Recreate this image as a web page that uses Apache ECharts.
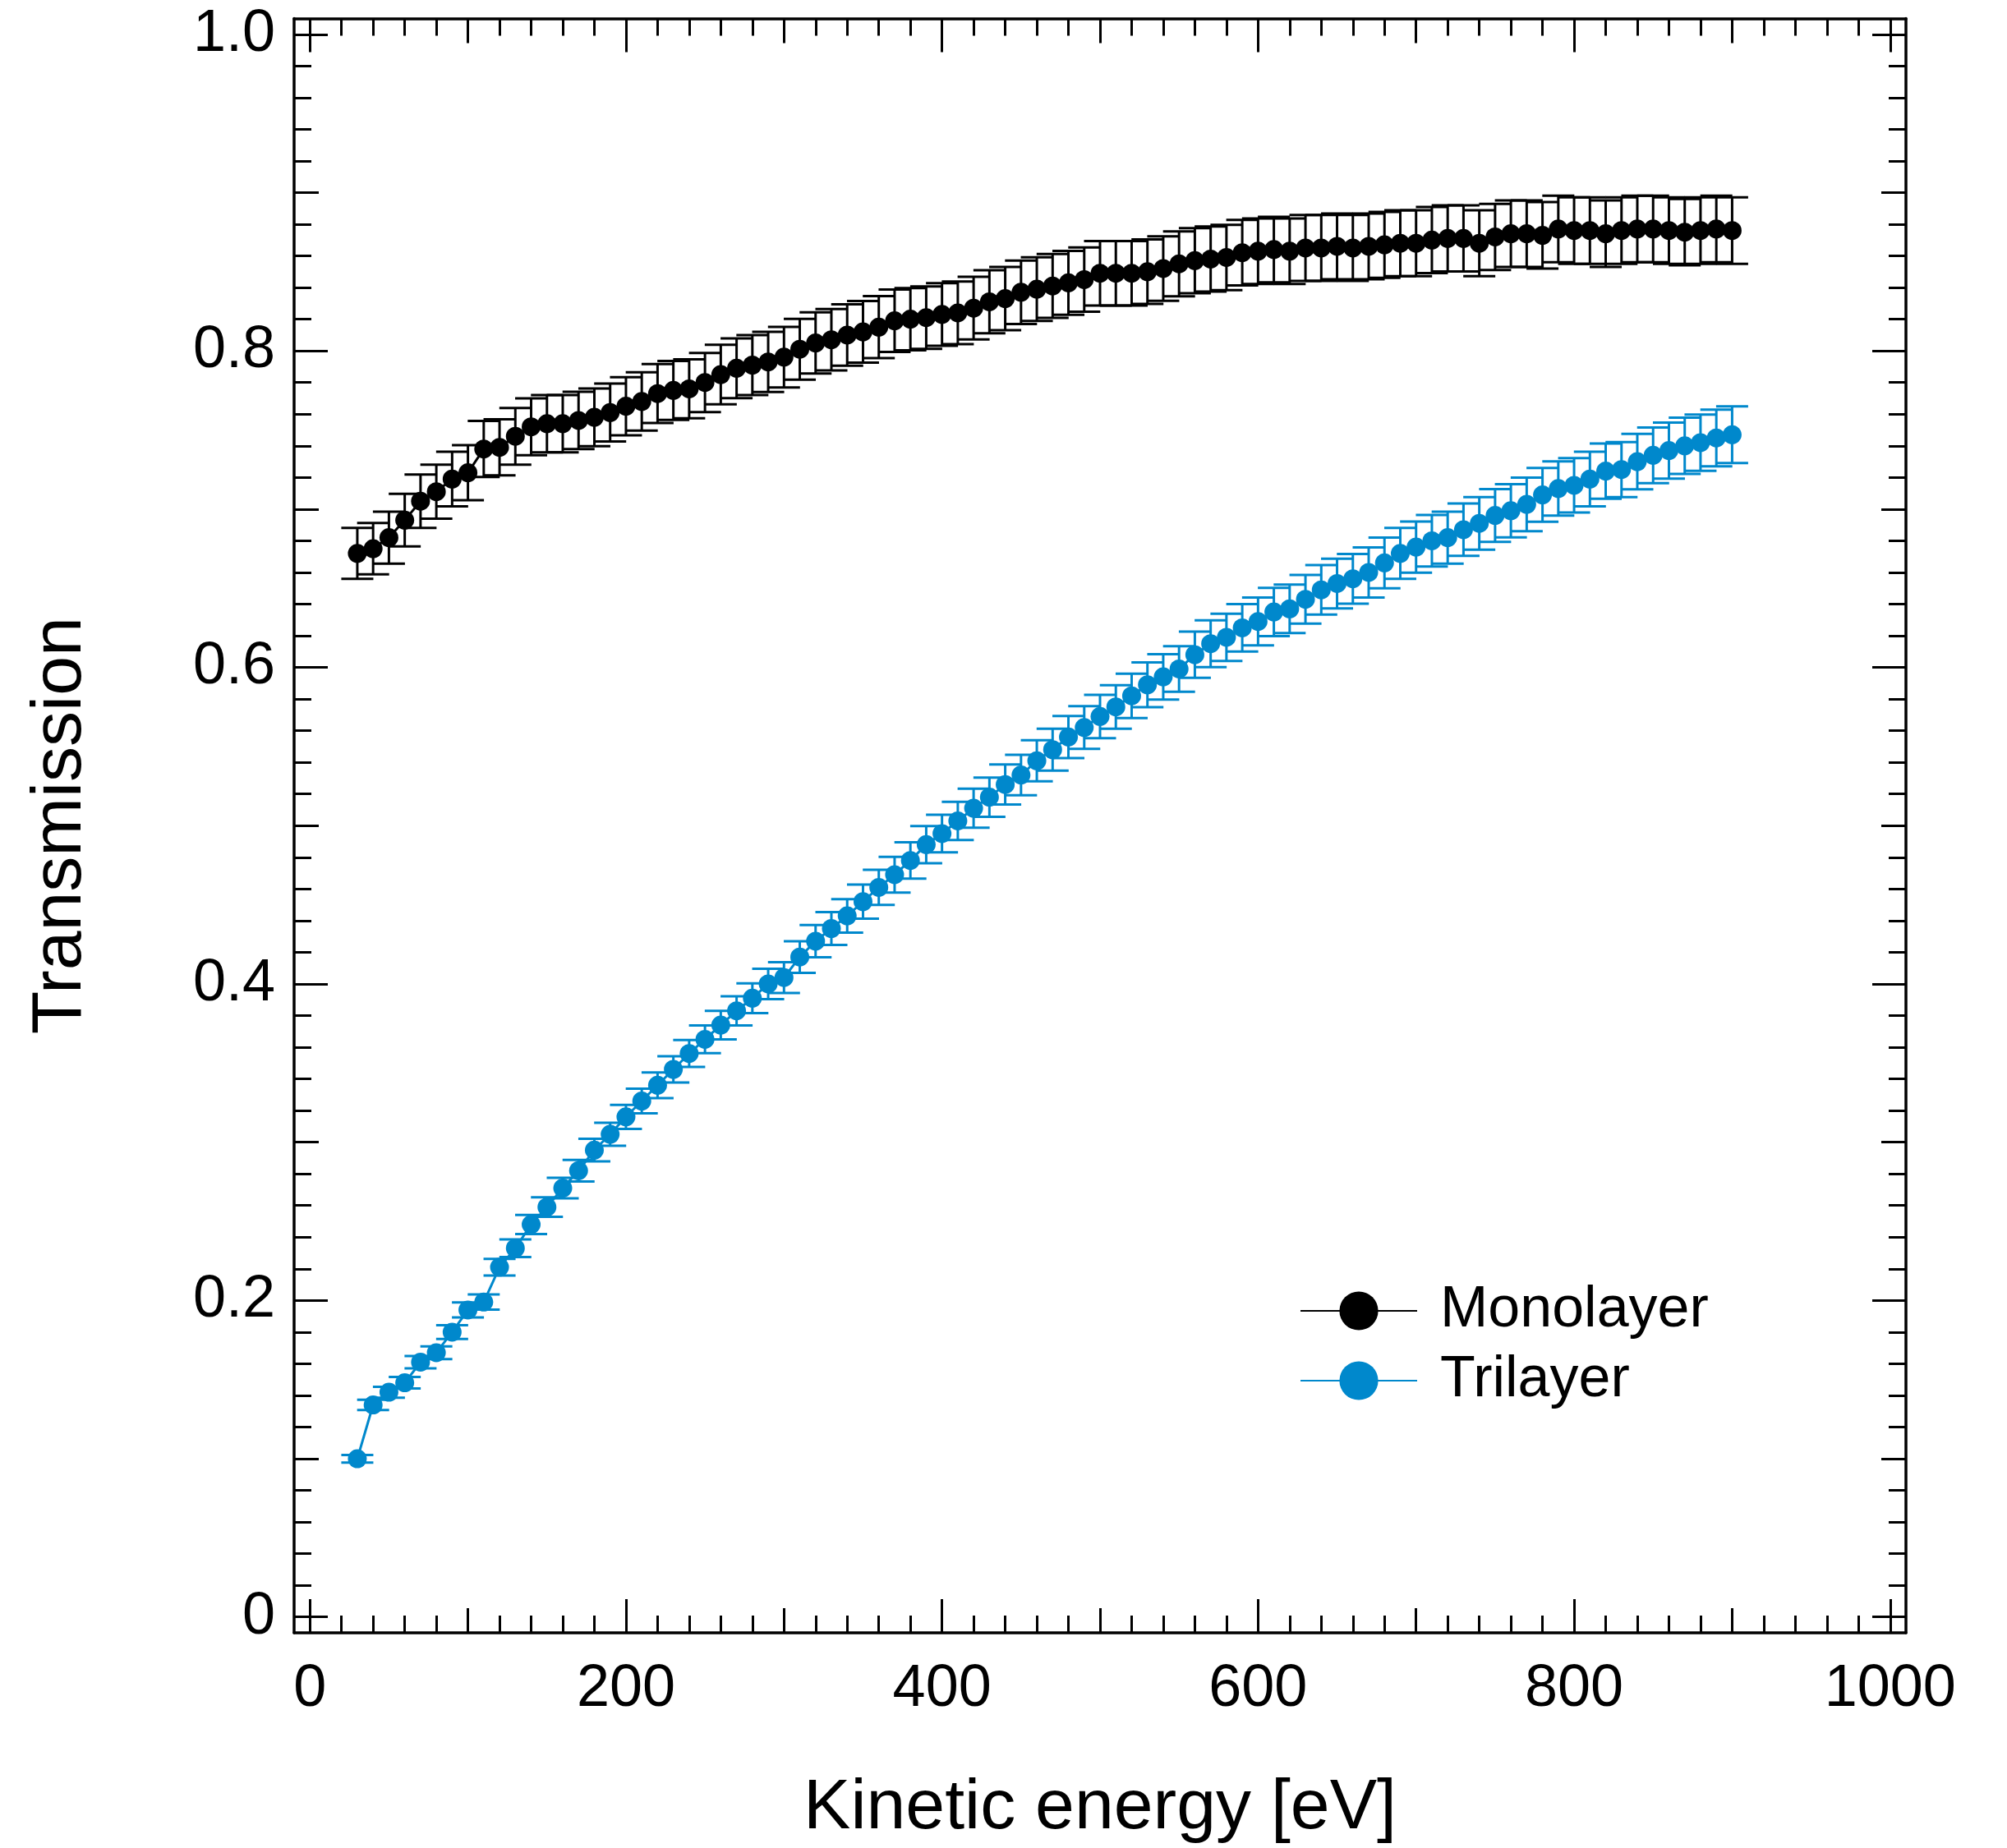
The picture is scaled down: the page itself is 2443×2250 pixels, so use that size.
<!DOCTYPE html>
<html>
<head>
<meta charset="utf-8">
<script src="https://cdn.jsdelivr.net/npm/echarts@6.0.0/dist/echarts.min.js"></script>
<style>
html,body{margin:0;padding:0;background:#fff;}
#chart{width:2443px;height:2250px;}
</style>
</head>
<body>
<div id="chart"></div>
<script>
// ---------- data ----------
const energy = [30,40,50,60,70,80,90,100,110,120,130,140,150,160,170,180,190,200,210,220,230,240,250,260,270,280,290,300,310,320,330,340,350,360,370,380,390,400,410,420,430,440,450,460,470,480,490,500,510,520,530,540,550,560,570,580,590,600,610,620,630,640,650,660,670,680,690,700,710,720,730,740,750,760,770,780,790,800,810,820,830,840,850,860,870,880,890,900];

const monolayer = [0.672,0.675,0.682,0.693,0.705,0.711,0.719,0.723,0.738,0.739,0.746,0.752,0.754,0.754,0.756,0.758,0.761,0.765,0.768,0.773,0.775,0.776,0.780,0.785,0.789,0.791,0.793,0.796,0.801,0.805,0.807,0.810,0.812,0.815,0.819,0.820,0.821,0.823,0.824,0.827,0.831,0.833,0.837,0.839,0.841,0.843,0.845,0.849,0.849,0.849,0.850,0.852,0.855,0.857,0.858,0.859,0.862,0.863,0.864,0.863,0.865,0.865,0.866,0.865,0.866,0.867,0.868,0.868,0.870,0.871,0.871,0.868,0.872,0.874,0.874,0.873,0.877,0.876,0.876,0.874,0.876,0.877,0.877,0.876,0.875,0.876,0.877,0.876];

const monolayerErr = [0.0161,0.0162,0.0164,0.0166,0.0169,0.0171,0.0173,0.0174,0.0177,0.0177,0.0179,0.0180,0.0181,0.0181,0.0181,0.0182,0.0183,0.0184,0.0184,0.0186,0.0186,0.0186,0.0187,0.0188,0.0189,0.0190,0.0190,0.0191,0.0192,0.0193,0.0194,0.0194,0.0195,0.0196,0.0197,0.0197,0.0197,0.0198,0.0198,0.0198,0.0199,0.0200,0.0201,0.0201,0.0202,0.0202,0.0203,0.0204,0.0204,0.0204,0.0204,0.0204,0.0205,0.0206,0.0206,0.0206,0.0207,0.0207,0.0207,0.0207,0.0208,0.0208,0.0208,0.0208,0.0208,0.0208,0.0208,0.0208,0.0209,0.0209,0.0209,0.0208,0.0209,0.0210,0.0210,0.0210,0.0210,0.0210,0.0210,0.0210,0.0210,0.0210,0.0210,0.0210,0.0210,0.0210,0.0210,0.0210];

const trilayer = [0.100,0.134,0.142,0.148,0.161,0.167,0.180,0.194,0.199,0.221,0.233,0.248,0.259,0.271,0.282,0.295,0.305,0.316,0.326,0.336,0.346,0.356,0.365,0.374,0.383,0.391,0.400,0.404,0.417,0.427,0.435,0.443,0.452,0.461,0.469,0.478,0.488,0.495,0.503,0.511,0.518,0.526,0.532,0.541,0.548,0.556,0.562,0.569,0.575,0.582,0.589,0.594,0.599,0.608,0.615,0.619,0.625,0.629,0.635,0.637,0.643,0.649,0.653,0.656,0.660,0.666,0.672,0.676,0.680,0.682,0.687,0.691,0.696,0.699,0.703,0.709,0.713,0.715,0.719,0.724,0.725,0.730,0.734,0.737,0.740,0.742,0.745,0.747];

const trilayerErr = [0.0024,0.0032,0.0034,0.0036,0.0039,0.0040,0.0043,0.0047,0.0048,0.0053,0.0056,0.0060,0.0062,0.0065,0.0068,0.0071,0.0073,0.0076,0.0078,0.0081,0.0083,0.0085,0.0088,0.0090,0.0092,0.0094,0.0096,0.0097,0.0100,0.0102,0.0104,0.0106,0.0108,0.0111,0.0113,0.0115,0.0117,0.0119,0.0121,0.0123,0.0124,0.0126,0.0128,0.0130,0.0132,0.0133,0.0135,0.0137,0.0138,0.0140,0.0141,0.0143,0.0144,0.0146,0.0148,0.0149,0.0150,0.0151,0.0152,0.0153,0.0154,0.0156,0.0157,0.0157,0.0158,0.0160,0.0161,0.0162,0.0163,0.0164,0.0165,0.0166,0.0167,0.0168,0.0169,0.0170,0.0171,0.0172,0.0173,0.0174,0.0174,0.0175,0.0176,0.0177,0.0178,0.0178,0.0179,0.0179];

// tick values
const xMajorTicks = [0,200,400,600,800,1000];
const xMidTicks = [100,300,500,700,900];
const xMinorTicks = [20,40,60,80,120,140,160,180,220,240,260,280,320,340,360,380,420,440,460,480,520,540,560,580,620,640,660,680,720,740,760,780,820,840,860,880,920,940,960,980];
const yMajorTicks = [0,0.2,0.4,0.6,0.8,1.0];
const yMidTicks = [0.1,0.3,0.5,0.7,0.9];
const yMinorTicks = [0.02,0.04,0.06,0.08,0.12,0.14,0.16,0.18,0.22,0.24,0.26,0.28,0.32,0.34,0.36,0.38,0.42,0.44,0.46,0.48,0.52,0.54,0.56,0.58,0.62,0.64,0.66,0.68,0.72,0.74,0.76,0.78,0.82,0.84,0.86,0.88,0.92,0.94,0.96,0.98];

const seriesNames = ['Monolayer','Trilayer'];
const xTitle = 'Kinetic energy [eV]';
const yTitle = 'Transmission';

// ---------- styling ----------
const FONT = '"Liberation Sans", Arial, Helvetica, sans-serif';
const BLACK = '#000000';
const BLUE = '#0088cc';
const X_MIN = -10, X_MAX = 1010, Y_MIN = -0.01, Y_MAX = 1.01;
const TICK_W = 3;

const hiddenLine = {show: false, onZero: false};
const axisLineStyle = {show: true, onZero: false, lineStyle: {color: BLACK, width: 3.5}};

function xAxisDef(pos, ticks, len, opts) {
  return Object.assign({
    type: 'value', position: pos, min: X_MIN, max: X_MAX,
    axisLine: hiddenLine,
    splitLine: {show: false},
    axisTick: {show: true, inside: true, length: len, customValues: ticks,
               lineStyle: {color: BLACK, width: TICK_W}},
    axisLabel: {show: false}
  }, opts || {});
}
function yAxisDef(pos, ticks, len, opts) {
  return Object.assign({
    type: 'value', position: pos, min: Y_MIN, max: Y_MAX,
    axisLine: hiddenLine,
    splitLine: {show: false},
    axisTick: {show: true, inside: true, length: len, customValues: ticks,
               lineStyle: {color: BLACK, width: TICK_W}},
    axisLabel: {show: false}
  }, opts || {});
}

const xAxes = [
  xAxisDef('bottom', xMajorTicks, 41, {
    axisLine: axisLineStyle,
    axisLabel: {show: true, customValues: xMajorTicks, margin: 33,
                fontSize: 72, fontFamily: FONT, color: BLACK,
                formatter: v => String(Math.round(v))},
    name: xTitle, nameLocation: 'middle', nameGap: 171,
    nameTextStyle: {fontSize: 86, fontFamily: FONT, color: BLACK}
  }),
  xAxisDef('bottom', xMidTicks, 30),
  xAxisDef('bottom', xMinorTicks, 21),
  xAxisDef('top', xMajorTicks, 41, {axisLine: axisLineStyle}),
  xAxisDef('top', xMidTicks, 30),
  xAxisDef('top', xMinorTicks, 21)
];

const yAxes = [
  yAxisDef('left', yMajorTicks, 41, {
    axisLine: axisLineStyle,
    axisLabel: {show: true, customValues: yMajorTicks, margin: 23,
                fontSize: 72, fontFamily: FONT, color: BLACK,
                formatter: v => (Math.abs(v) < 1e-9 ? '0' : v.toFixed(1))},
    name: yTitle, nameLocation: 'middle', nameGap: 241,
    nameTextStyle: {fontSize: 86, fontFamily: FONT, color: BLACK}
  }),
  yAxisDef('left', yMidTicks, 30),
  yAxisDef('left', yMinorTicks, 21),
  yAxisDef('right', yMajorTicks, 41, {axisLine: axisLineStyle}),
  yAxisDef('right', yMidTicks, 30),
  yAxisDef('right', yMinorTicks, 21)
];

function pointData(vals) {
  return energy.map((e, i) => [e, vals[i]]);
}
function errData(vals, errs) {
  return energy.map((e, i) => [e, vals[i] - errs[i], vals[i] + errs[i]]);
}
function errorSeries(name, vals, errs, color) {
  return {
    type: 'custom', name: name, xAxisIndex: 0, yAxisIndex: 0, z: 2,
    silent: true,
    data: errData(vals, errs),
    encode: {x: 0, y: [1, 2]},
    renderItem: function (params, api) {
      const x = api.value(0);
      const lo = api.coord([x, api.value(1)]);
      const hi = api.coord([x, api.value(2)]);
      const hw = 19.5;
      const st = {stroke: color, lineWidth: 3};
      return {type: 'group', children: [
        {type: 'line', shape: {x1: lo[0], y1: lo[1], x2: hi[0], y2: hi[1]}, style: st},
        {type: 'line', shape: {x1: hi[0] - hw, y1: hi[1], x2: hi[0] + hw, y2: hi[1]}, style: st},
        {type: 'line', shape: {x1: lo[0] - hw, y1: lo[1], x2: lo[0] + hw, y2: lo[1]}, style: st}
      ]};
    }
  };
}
function lineSeries(name, vals, color) {
  return {
    type: 'line', name: name, xAxisIndex: 0, yAxisIndex: 0, z: 3,
    data: pointData(vals),
    symbol: 'circle', symbolSize: 23, showSymbol: true,
    lineStyle: {color: color, width: 3},
    itemStyle: {color: color},
    emphasis: {disabled: true}
  };
}

const option = {
  backgroundColor: '#ffffff',
  animation: false,
  textStyle: {fontFamily: FONT},
  grid: {left: 358, top: 22.5, width: 1962, height: 1966, containLabel: false},
  xAxis: xAxes,
  yAxis: yAxes,
  legend: {
    data: seriesNames,
    orient: 'vertical',
    left: 1582, top: 1561, padding: 0,
    itemWidth: 142, itemHeight: 59, itemGap: 15,
    textStyle: {fontSize: 70, fontFamily: FONT, color: BLACK, padding: [0, 0, 0, 23]},
    selectedMode: false
  },
  series: [
    errorSeries('Monolayer error', monolayer, monolayerErr, BLACK),
    lineSeries(seriesNames[0], monolayer, BLACK),
    errorSeries('Trilayer error', trilayer, trilayerErr, BLUE),
    lineSeries(seriesNames[1], trilayer, BLUE)
  ]
};

const chart = echarts.init(document.getElementById('chart'), null, {renderer: 'canvas'});
chart.setOption(option);
</script>
</body>
</html>
